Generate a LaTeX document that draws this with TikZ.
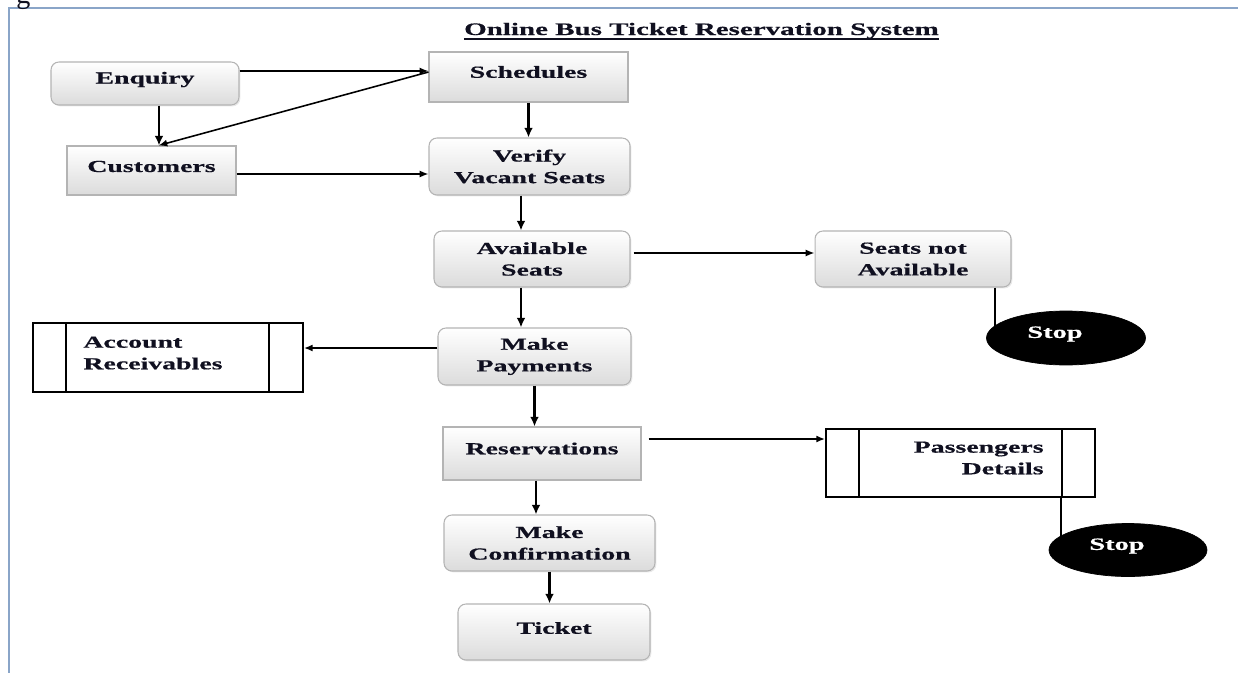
\documentclass[tikz,border=0pt]{standalone}
\usepackage{fontspec}
\setmainfont{Liberation Serif}[FakeStretch=1.65, BoldFeatures={FakeBold=0.6}]
\newfontfamily\plainserif{Liberation Serif}
\usetikzlibrary{arrows.meta,shadows,shapes.geometric}
\definecolor{txt}{HTML}{101020}
\definecolor{framec}{HTML}{8AA5C8}
\definecolor{bord}{HTML}{B4B4B4}
\tikzset{
  lab/.style={font=\fontsize{9.6pt}{12.3pt}\selectfont\bfseries, text=txt, align=center, inner sep=0pt},
  boxbase/.style={draw=bord, line width=0.6pt, top color=white, bottom color=gray!28, inner sep=0pt,
    drop shadow={opacity=0.18, shadow xshift=0.8pt, shadow yshift=-0.8pt}},
  rbox/.style={boxbase, rounded corners=4.5pt},
  sbox/.style={boxbase},
  store/.style={draw=black, line width=1.1pt, fill=white, inner sep=0pt},
  stopn/.style={ellipse, fill=black, draw=black, inner sep=0pt},
  stoplab/.style={font=\fontsize{9.8pt}{12.3pt}\selectfont\bfseries, text=white, inner sep=0pt},
  arr/.style={draw=black, line width=0.9pt, -{Latex[length=5pt,width=4pt]}},
  varr/.style={draw=black, line width=1.4pt, -{Latex[length=5.5pt,width=5pt]}},
  plain/.style={draw=black, line width=1.4pt},
  frameline/.style={draw=framec, line width=1.2pt}
}
\begin{document}
\begin{tikzpicture}[x=0.02cm, y=-0.02cm]
\useasboundingbox (0,0) rectangle (1238,673);
% frame
\draw[frameline] (9,673) -- (9,8) -- (1240,8);
\node[anchor=base west, inner sep=0pt, font=\plainserif\fontsize{16pt}{18pt}\selectfont, text=txt] (fig) at (16,3) {g};
% title
\node[anchor=base, inner sep=0pt, font=\fontsize{10pt}{12pt}\selectfont\bfseries, text=txt] (title) at (701.5,35) {Online Bus Ticket Reservation System};
\draw[line width=1pt, txt] ([yshift=-2.2pt]title.base west) -- ([yshift=-2.2pt]title.base east);

% boxes
\node[rbox, minimum width=3.76cm, minimum height=0.86cm, label={[lab, yshift=0.08cm]center:Enquiry}] (enq) at (145,83.5) {};
\node[sbox, minimum width=3.98cm, minimum height=1.0cm, label={[lab, yshift=0.1cm]center:Schedules}] (sch) at (528.5,77) {};
\node[sbox, minimum width=3.38cm, minimum height=0.98cm, label={[lab, yshift=0.08cm]center:Customers}] (cus) at (151.5,170.5) {};
\node[rbox, lab, minimum width=4.02cm, minimum height=1.14cm] (ver) at (529.5,166.5) {Verify\\Vacant Seats};
\node[rbox, lab, minimum width=3.92cm, minimum height=1.12cm] (av) at (532,259) {Available\\Seats};
\node[rbox, lab, minimum width=3.92cm, minimum height=1.12cm] (sn) at (913,259) {Seats not\\Available};
\node[stopn, minimum width=3.18cm, minimum height=1.08cm, label={[stoplab, xshift=-0.22cm, yshift=0.08cm]center:Stop}] (st1) at (1066,338) {};
\node[store, minimum width=5.4cm, minimum height=1.38cm] (acc) at (168,357.5) {};
\draw[line width=1.1pt] ([xshift=0.68cm]acc.north west) -- ([xshift=0.68cm]acc.south west);
\draw[line width=1.1pt] ([xshift=-0.70cm]acc.north east) -- ([xshift=-0.70cm]acc.south east);
\node[lab, anchor=west, align=left] (acct) at ([xshift=1.02cm, yshift=0.09cm]acc.west) {Account\\Receivables};
\node[rbox, lab, minimum width=3.86cm, minimum height=1.14cm] (mp) at (534.5,356.5) {Make\\Payments};
\node[sbox, minimum width=3.96cm, minimum height=1.06cm, label={[lab, yshift=0.1cm]center:Reservations}] (res) at (542,453.5) {};
\node[store, minimum width=5.38cm, minimum height=1.36cm] (pas) at (960.5,463) {};
\draw[line width=1.1pt] ([xshift=0.68cm]pas.north west) -- ([xshift=0.68cm]pas.south west);
\draw[line width=1.1pt] ([xshift=-0.68cm]pas.north east) -- ([xshift=-0.68cm]pas.south east);
\node[lab, anchor=east, align=right] (pasd) at ([xshift=-1.04cm, yshift=0.1cm]pas.east) {Passengers\\Details};
\node[stopn, minimum width=3.16cm, minimum height=1.06cm, label={[stoplab, xshift=-0.22cm, yshift=0.08cm]center:Stop}] (st2) at (1128,550) {};
\node[rbox, lab, minimum width=4.22cm, minimum height=1.12cm] (mc) at (549.5,543) {Make\\Confirmation};
\node[rbox, minimum width=3.84cm, minimum height=1.12cm, label={[lab, yshift=0.08cm]center:Ticket}] (tk) at (554,632) {};

% connectors
\draw[arr] ([yshift=0.25cm]enq.east) -- ([yshift=0.25cm]enq.east -| sch.west);
\draw[varr] ([xshift=0.28cm]enq.south) -- ([xshift=0.28cm]enq.south |- cus.north);
\draw[arr] ([yshift=0.1cm]sch.west) -- ([xshift=0.14cm]cus.north);
\draw[arr] ([yshift=-0.07cm]cus.east) -- ([yshift=-0.07cm]cus.east -| ver.west);
\draw[varr] (sch.south) -- (sch.south |- ver.north);
\draw[varr] ([xshift=-0.17cm]ver.south) -- ([xshift=-0.17cm]ver.south |- av.north);
\draw[arr] ([xshift=0.06cm,yshift=0.12cm]av.east) -- ([yshift=0.12cm]av.east -| sn.west);
\draw[varr] ([xshift=-0.22cm]av.south) -- ([xshift=-0.22cm]av.south |- mp.north);
\draw[plain] ([xshift=1.64cm]sn.south) -- ([xshift=1.64cm]sn.south |- st1.center);
\draw[arr] ([yshift=0.17cm]mp.west) -- ([yshift=0.17cm]mp.west -| acc.east);
\draw[varr] (mp.south) -- (mp.south |- res.north);
\draw[varr] ([xshift=-0.12cm]res.south) -- ([xshift=-0.12cm]res.south |- mc.north);
\draw[arr] ([xshift=0.14cm,yshift=0.29cm]res.east) -- ([yshift=0.29cm]res.east -| pas.west);
\draw[varr] (mc.south) -- (mc.south |- tk.north);
\draw[plain] ([xshift=2.01cm]pas.south) -- ([xshift=2.01cm]pas.south |- st2.center);
\end{tikzpicture}
\end{document}
